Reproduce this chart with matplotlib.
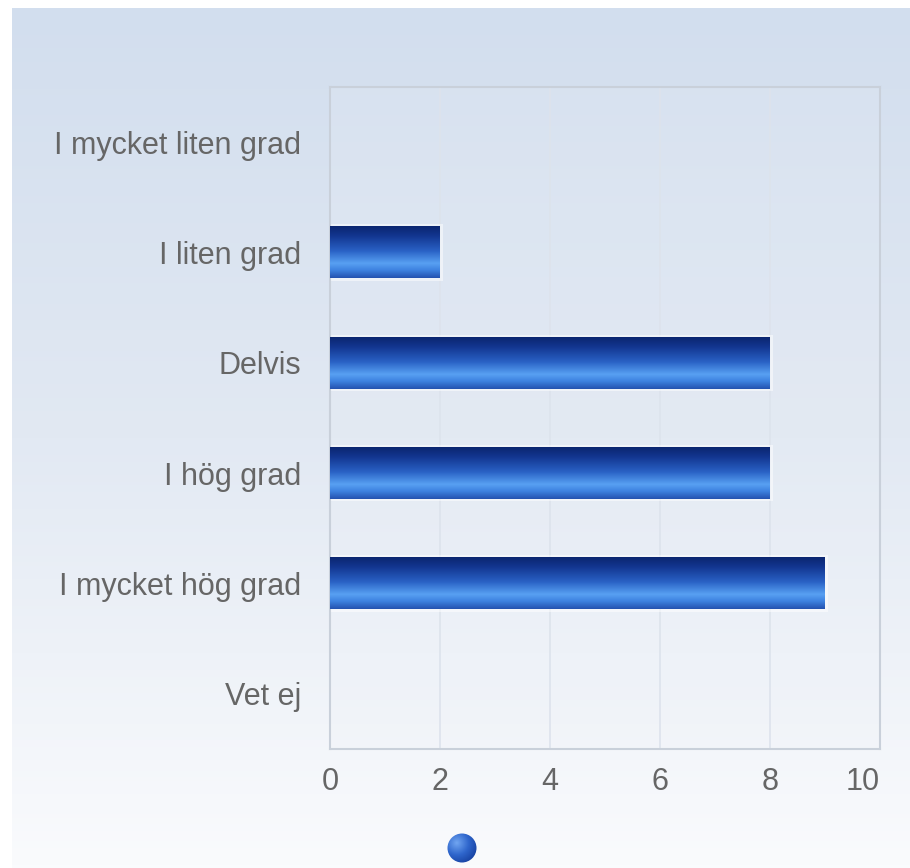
import numpy as np
import matplotlib
matplotlib.use("Agg")
import matplotlib.pyplot as plt
from matplotlib.colors import LinearSegmentedColormap
from matplotlib.patches import Circle, Rectangle

categories = ["I mycket liten grad", "I liten grad", "Delvis", "I hög grad", "I mycket hög grad", "Vet ej"]
values = [0, 2, 8, 8, 9, 0]
xticks = [0, 2, 4, 6, 8, 10]

plt.rcParams['font.family'] = ['Liberation Sans', 'DejaVu Sans']

W, H = 910, 868
fig = plt.figure(figsize=(W / 100, H / 100), dpi=100)
fig.patch.set_facecolor("white")

# background gradient panel
bg = fig.add_axes([0, 0, 1, 1], zorder=0)
bg.set_xlim(0, W)
bg.set_ylim(H, 0)
bg.axis("off")
bg_cmap = LinearSegmentedColormap.from_list("bg", ["#d2deee", "#e2e9f3", "#fafbfd"])
grad = np.linspace(0, 1, 256).reshape(-1, 1)
bg.imshow(grad, cmap=bg_cmap, extent=[12, W, H, 8], aspect="auto", zorder=0)

# legend marker (circle with gradient)
circ = Circle((462, 848), 14.5, transform=bg.transData, facecolor="none", edgecolor="none")
bg.add_patch(circ)
cmap_c = LinearSegmentedColormap.from_list("c", ["#6fa4f0", "#2f66cc", "#143d9c"])
xx, yy = np.meshgrid(np.linspace(-1, 1, 64), np.linspace(-1, 1, 64))
rr = np.clip(np.sqrt((xx + 0.35) ** 2 + (yy + 0.35) ** 2) / 1.6, 0, 1)
im = bg.imshow(rr, cmap=cmap_c, extent=[447, 477, 863, 833], zorder=2)
im.set_clip_path(circ)

# main axes
ax = fig.add_axes([330 / W, 1 - 749 / H, 550 / W, (749 - 87) / H], zorder=1)
ax.patch.set_facecolor("#eef2f8")
ax.patch.set_alpha(0.15)

y = np.arange(len(categories))
bar_h = 0.47
bars = ax.barh(y, values, height=bar_h, color="none", edgecolor="none", zorder=3)

cmap_b = LinearSegmentedColormap.from_list(
    "bar",
    [(0.0, "#0b2670"), (0.18, "#12358f"), (0.48, "#2a62c6"), (0.72, "#58a0f2"), (0.85, "#3e82e0"), (1.0, "#2453b0")],
)
vgrad = np.linspace(0, 1, 128).reshape(-1, 1)
for b, v in zip(bars, values):
    if v <= 0:
        continue
    x0, yb, w, h = b.get_x(), b.get_y(), b.get_width(), b.get_height()
    ax.add_patch(Rectangle((x0, yb - 0.02), w + 0.06, h + 0.04, facecolor="white", alpha=0.5,
                           edgecolor="none", zorder=2))
    ax.imshow(vgrad, cmap=cmap_b, extent=[x0, x0 + w, yb + h, yb], aspect="auto", zorder=3)

ax.set_xlim(0, 10)
ax.set_ylim(len(categories) - 0.5, -0.5)
ax.set_aspect("auto")
ax.set_xticks(xticks)
ax.set_xticklabels([str(t) for t in xticks])
ax.set_yticks(y)
ax.set_yticklabels(categories)
ax.tick_params(axis="both", length=0, labelsize=22, colors="#666666")
ax.tick_params(axis="y", pad=21)
ax.tick_params(axis="x", pad=13)
ax.get_xticklabels()[-1].set_horizontalalignment("right")
ax.grid(axis="x", color="#dde3ec", linewidth=1.2, zorder=1)
ax.set_axisbelow(True)
for s in ax.spines.values():
    s.set_color("#c9d0da")
    s.set_linewidth(1.5)

fig.savefig("out.png", dpi=100)
